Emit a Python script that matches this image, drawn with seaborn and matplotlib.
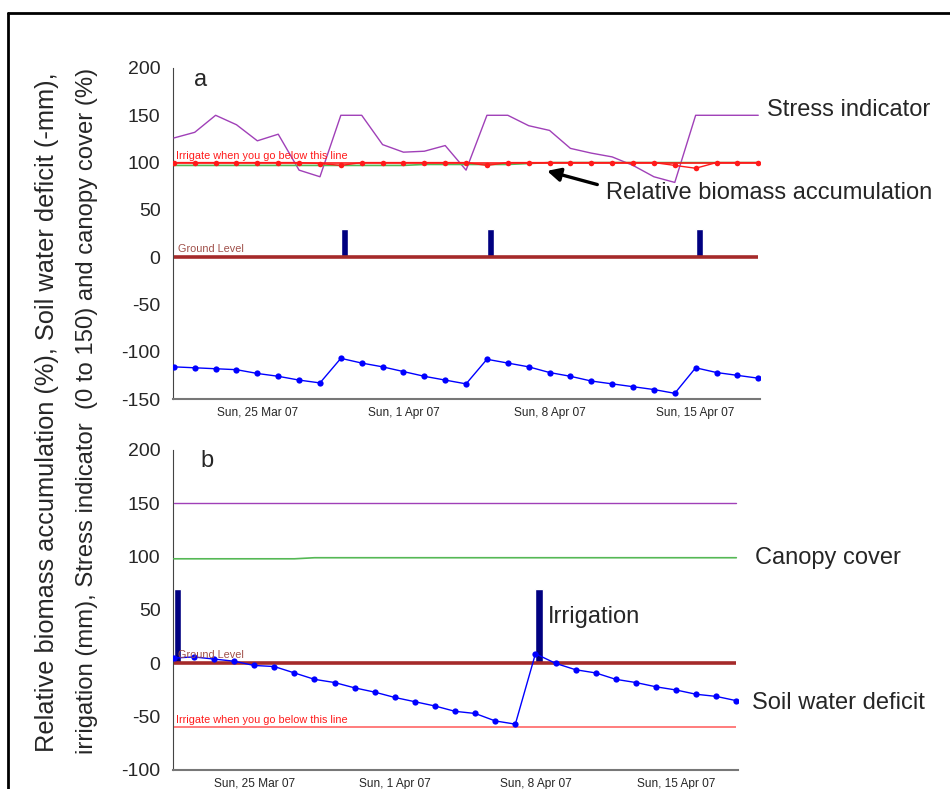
import matplotlib
matplotlib.use("Agg")
import matplotlib.pyplot as plt
import pandas as pd
import seaborn as sns

# --- data (one value per day, 21 Mar - 18 Apr 2007) ---
dates = pd.date_range("2007-03-21", "2007-04-18", freq="D")

stress_a = [126, 132, 150, 140, 123, 130, 92, 85, 150, 150, 119, 111, 112, 118, 92,
            150, 150, 139, 134, 115, 110, 106, 97, 85, 79, 150, 150, 150, 150]
biomass_a = [100, 100, 100, 100, 100, 100, 100, 99, 97, 100, 100, 100, 100, 100, 100,
             97, 100, 100, 100, 100, 100, 100, 100, 100, 97, 94, 100, 100, 100]
canopy_a = [97, 97, 97, 97, 97, 97, 97, 97, 97, 97, 97, 97, 98, 98, 98,
            98, 98, 99, 100, 100, 100, 100, 100, 100, 100, 100, 100, 100, 100]
deficit_a = [-116, -117, -118, -119, -123, -126, -130, -133, -107, -112, -116, -121, -126, -130, -134,
             -108, -112, -116, -122, -126, -131, -134, -137, -140, -144, -117, -122, -125, -128]
irrigation_a = [0, 0, 0, 0, 0, 0, 0, 0, 30, 0, 0, 0, 0, 0, 0,
                30, 0, 0, 0, 0, 0, 0, 0, 0, 0, 30, 0, 0, 0]

stress_b = [150] * 29
canopy_b = [98, 98, 98, 98, 98, 98, 98, 99, 99, 99, 99, 99, 99, 99, 99,
            99, 99, 99, 99, 99, 99, 99, 99, 99, 99, 99, 99, 99, 99]
deficit_b = [5, 6, 4, 2, -2, -3, -9, -15, -18, -23, -27, -32, -36, -40, -45,
             -47, -54, -57, 9, 0, -6, -9, -15, -18, -22, -25, -29, -31, -35]
irrigation_b = [70, 0, 0, 0, 0, 0, 0, 0, 0, 0, 0, 0, 0, 0, 0,
                0, 0, 0, 70, 0, 0, 0, 0, 0, 0, 0, 0, 0, 0]

ground_level = 0
threshold_a = 100
threshold_b = -60

tick_dates = pd.to_datetime(["2007-03-25", "2007-04-01", "2007-04-08", "2007-04-15"])
tick_labels = ["Sun, 25 Mar 07", "Sun, 1 Apr 07", "Sun, 8 Apr 07", "Sun, 15 Apr 07"]

sns.set_style("white")
plt.rcParams['font.family'] = ['Liberation Sans', 'DejaVu Sans']
plt.rcParams['axes.unicode_minus'] = False

fig = plt.figure(figsize=(9.5, 7.89), dpi=100)
W, H = 950, 789

def px_axes(left, top, right, bottom):
    return fig.add_axes([left / W, 1 - bottom / H, (right - left) / W, (bottom - top) / H])

ax_a = px_axes(173, 68, 760, 399)
ax_b = px_axes(173, 450, 738, 770)

PURPLE = "#a040b8"
GREEN = "#55b855"
RED = "#ff1a1a"
BLUE = "#0000ff"
GROUND = "#a52a2a"
NAVY = "#000080"


def draw_panel(ax, stress, canopy, deficit, irrigation, threshold, biomass=None):
    df = pd.DataFrame({"date": dates, "stress": stress, "canopy": canopy,
                       "deficit": deficit, "irrigation": irrigation})
    ax.bar(df["date"], df["irrigation"], width=0.36, align="edge", color=NAVY, zorder=2)
    ax.hlines(ground_level, dates[0], dates[-1], color=GROUND, lw=2.6, zorder=3)
    sns.lineplot(data=df, x="date", y="stress", ax=ax, color=PURPLE, lw=1.0, zorder=4)
    sns.lineplot(data=df, x="date", y="canopy", ax=ax, color=GREEN, lw=1.2, zorder=4)
    thr_color = RED if biomass is not None else "#ff6666"
    ax.hlines(threshold, dates[0], dates[-1], color=thr_color, lw=1.2, zorder=4)
    if biomass is not None:
        df["biomass"] = biomass
        sns.lineplot(data=df, x="date", y="biomass", ax=ax, color=RED, lw=1.0,
                     marker="o", markersize=4, markeredgewidth=0, zorder=5)
    sns.lineplot(data=df, x="date", y="deficit", ax=ax, color=BLUE, lw=1.0,
                 marker="o", markersize=4.5, markeredgewidth=0, zorder=5)
    ax.text(dates[0] + pd.Timedelta(hours=2), threshold + 2, "Irrigate when you go below this line",
            color=RED, fontsize=7.8, va="bottom", ha="left", zorder=6)
    ax.text(dates[0] + pd.Timedelta(hours=5), ground_level + 3, "Ground Level",
            color="#a0504a", fontsize=7.8, va="bottom", ha="left", zorder=6)

    ax.set_xlabel("")
    ax.set_ylabel("")
    ax.set_xticks(tick_dates)
    ax.set_xticklabels(tick_labels, fontsize=8.6)
    ax.tick_params(axis="x", direction="inout", length=5, width=0.8, color="#555555", pad=3)
    ax.tick_params(axis="y", direction="out", length=6, width=1, color="black", labelsize=14, pad=3)
    sns.despine(ax=ax)
    ax.spines["left"].set_color("#444444")
    ax.spines["bottom"].set_color("#777777")
    ax.spines["bottom"].set_linewidth(1.5)


draw_panel(ax_a, stress_a, canopy_a, deficit_a, irrigation_a, threshold_a, biomass=biomass_a)
ax_a.set_ylim(-150, 200)
ax_a.set_yticks([-150, -100, -50, 0, 50, 100, 150, 200])
ax_a.set_xlim(dates[0] - pd.Timedelta(hours=1), dates[-1] + pd.Timedelta(hours=2))

draw_panel(ax_b, stress_b, canopy_b, deficit_b, irrigation_b, threshold_b)
ax_b.set_ylim(-100, 200)
ax_b.set_yticks([-100, -50, 0, 50, 100, 150, 200])
ax_b.set_xlim(dates[0] - pd.Timedelta(hours=1), dates[-1] + pd.Timedelta(hours=2))

# panel letters
ax_a.text(0.035, 0.965, "a", transform=ax_a.transAxes, fontsize=17, va="center", ha="left")
ax_b.text(0.048, 0.965, "b", transform=ax_b.transAxes, fontsize=17, va="center", ha="left")

# arrow pointing at the relative biomass line
ax_a.annotate("", xy=(dates[17] + pd.Timedelta(hours=18), 92),
              xytext=(dates[20] + pd.Timedelta(hours=10), 76),
              arrowprops=dict(arrowstyle="-|>", color="black", lw=2.4, mutation_scale=20))

# annotations (figure pixels)
def label(x, y, s, size=17):
    fig.text(x / W, 1 - y / H, s, fontsize=size, ha="left", va="center")

label(767, 110, "Stress indicator")
label(606, 193, "Relative biomass accumulation")
label(755, 558, "Canopy cover")
label(548, 617, "Irrigation")
label(752, 703, "Soil water deficit")

fig.text(47 / W, 1 - 412 / H, "Relative biomass accumulation (%), Soil water deficit (-mm),",
         rotation=90, fontsize=18.3, ha="center", va="center")
fig.text(87 / W, 1 - 411 / H, "irrigation (mm), Stress indicator  (0 to 150) and canopy cover (%)",
         rotation=90, fontsize=17.2, ha="center", va="center")

# frame around the figure (top and left edges)
fig.add_artist(plt.Line2D([8 / W, 8 / W], [0, 1 - 13 / H], color="black", lw=2,
                          transform=fig.transFigure))
fig.add_artist(plt.Line2D([8 / W, 1], [1 - 13 / H, 1 - 13 / H], color="black", lw=2,
                          transform=fig.transFigure))

fig.savefig("out.png", dpi=100)
print("Generated: out.png")
